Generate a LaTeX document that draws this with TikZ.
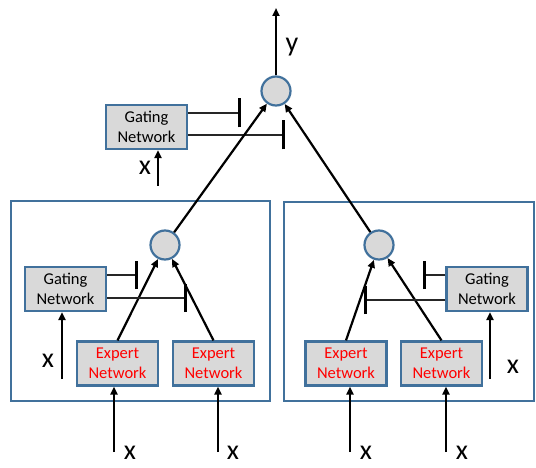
\documentclass[tikz,border=0pt]{standalone}
\usepackage{fontspec}
\setmainfont{Carlito}
\usetikzlibrary{arrows.meta}
\definecolor{bordblue}{HTML}{41719C}
\definecolor{boxgray}{HTML}{D9D9D9}
\begin{document}
\begin{tikzpicture}[x=1pt,y=-1pt,
  net/.style={draw=bordblue,fill=boxgray,line width=2.2pt,minimum width=81pt,minimum height=44pt,inner sep=0pt,align=center,font=\fontsize{16.5}{20}\selectfont},
  expert/.style={net,text=red},
  sum/.style={circle,draw=bordblue,fill=boxgray,line width=2.2pt,minimum size=29pt,inner sep=0pt},
  frame/.style={draw=bordblue,line width=1.8pt},
  arr/.style={-{Triangle[length=8pt,width=7pt]},line width=2.2pt},
  inh/.style={line width=1.3pt,draw=black!85},
  bar/.style={line width=3pt},
  lab/.style={font=\fontsize{28}{28}\selectfont,inner sep=0pt}]
\useasboundingbox (0,0) rectangle (536,468);
% frames
\node[frame,minimum width=259pt,minimum height=200pt,anchor=north west] (lf) at (10,200) {};
\node[frame,minimum width=250pt,minimum height=199pt,anchor=north west] (rf) at (283,201) {};
% top level
\node[sum] (top) at (276,91) {};
\coordinate (yout) at (276,8);
\draw[arr] (top) -- (yout);
\node[lab] (ylab) at (292,47) {y};
\node[net] (tg) at (146.5,127) {Gating\\Network};
\coordinate (tgin) at (158,186);
\draw[arr] (tgin) -- (tgin |- tg.south);
\node[lab] (tgx) at (145,168) {x};
\coordinate (tb1) at (239,113);
\coordinate (tb2) at (283,135);
\draw[inh] (tg.east |- tb1) -- (tb1);
\draw[inh] (tg.east |- tb2) -- (tb2);
\draw[bar] ([yshift=-14.5pt]tb1) -- ([yshift=14.5pt]tb1);
\draw[bar] ([yshift=-14.5pt]tb2) -- ([yshift=14.5pt]tb2);
% left subtree
\node[sum] (lc) at (165,245) {};
\node[net] (lg) at (65.5,289) {Gating\\Network};
\node[expert] (e1) at (117.5,363.5) {Expert\\Network};
\node[expert] (e2) at (213.5,363.5) {Expert\\Network};
\draw[arr] (e1.north) -- (lc);
\draw[arr] (e2.north) -- (lc);
\draw[arr] (lc) -- (top);
\coordinate (lgin) at (62,379);
\draw[arr] (lgin) -- (lgin |- lg.south);
\node[lab] (lgx) at (48,361) {x};
\coordinate (lb1) at (136,275);
\coordinate (lb2) at (185,298);
\draw[inh] (lg.east |- lb1) -- (lb1);
\draw[inh] (lg.east |- lb2) -- (lb2);
\draw[bar] ([yshift=-14pt]lb1) -- ([yshift=14pt]lb1);
\draw[bar] ([yshift=-14pt]lb2) -- ([yshift=14pt]lb2);
\coordinate (e1in) at (114,452);
\coordinate (e2in) at (218,452);
\draw[arr] (e1in) -- (e1in |- e1.south);
\draw[arr] (e2in) -- (e2in |- e2.south);
\node[lab] (e1x) at (130,453) {x};
\node[lab] (e2x) at (233,453) {x};
% right subtree
\node[sum] (rc) at (379,245) {};
\node[net] (rg) at (487,289) {Gating\\Network};
\node[expert] (e3) at (346,363.5) {Expert\\Network};
\node[expert] (e4) at (441.5,363.5) {Expert\\Network};
\draw[arr] (e3.north) -- (rc);
\draw[arr] (e4.north) -- (rc);
\draw[arr] (rc) -- (top);
\coordinate (rgin) at (490,379);
\draw[arr] (rgin) -- (rgin |- rg.south);
\node[lab] (rgx) at (513,367) {x};
\coordinate (rb1) at (424,275);
\coordinate (rb2) at (365,300);
\draw[inh] (rg.west |- rb1) -- (rb1);
\draw[inh] (rg.west |- rb2) -- (rb2);
\draw[bar] ([yshift=-14pt]rb1) -- ([yshift=14pt]rb1);
\draw[bar] ([yshift=-14pt]rb2) -- ([yshift=14pt]rb2);
\coordinate (e3in) at (350,452);
\coordinate (e4in) at (446,452);
\draw[arr] (e3in) -- (e3in |- e3.south);
\draw[arr] (e4in) -- (e4in |- e4.south);
\node[lab] (e3x) at (366,453) {x};
\node[lab] (e4x) at (462,453) {x};
\end{tikzpicture}
\end{document}
